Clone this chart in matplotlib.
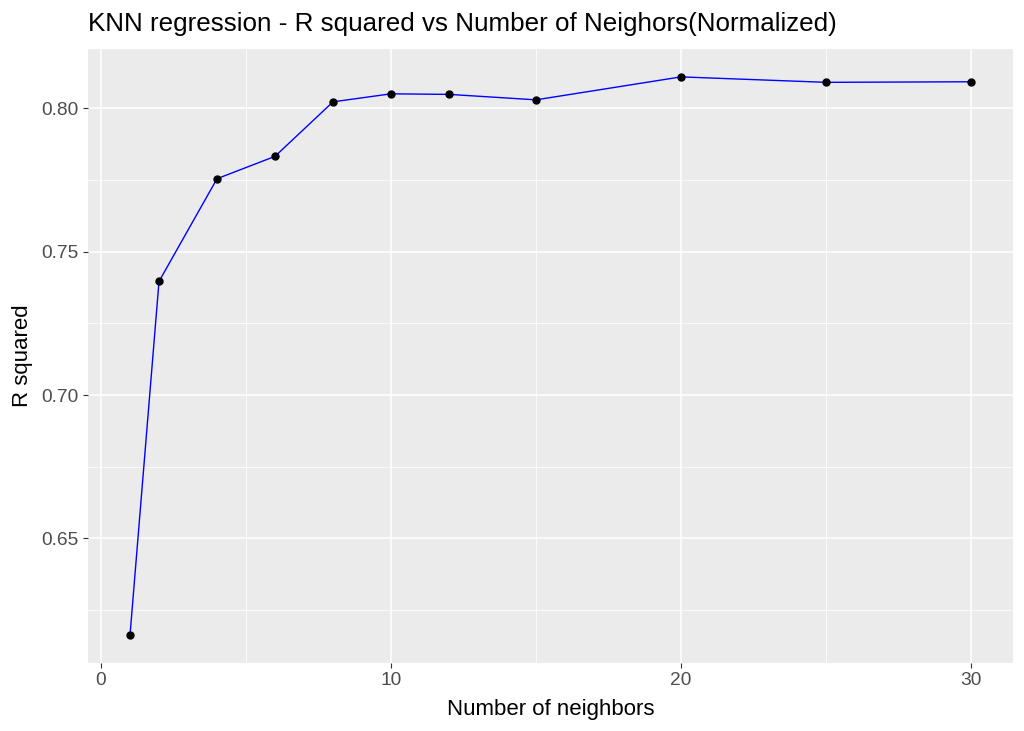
import matplotlib
matplotlib.use("Agg")
import matplotlib.pyplot as plt
from matplotlib.ticker import MultipleLocator

# k values and R squared
neighbors = [1, 2, 4, 6, 8, 10, 12, 15, 20, 25, 30]
r_squared = [0.6163, 0.7396, 0.7754, 0.7832, 0.8022, 0.8050, 0.8048, 0.8029, 0.8109, 0.8090, 0.8092]

plt.rcParams['font.family'] = ['Liberation Sans', 'DejaVu Sans']

fig = plt.figure(figsize=(10.24, 7.31), dpi=100)
ax = fig.add_axes([0.0859, 0.093, 0.9034, 0.840])

ax.set_facecolor('#EBEBEB')
ax.plot(neighbors, r_squared, color='blue', linewidth=1.0, zorder=3)
ax.plot(neighbors, r_squared, 'o', color='black', markersize=5, zorder=4)

xr = max(neighbors) - min(neighbors)
yr = max(r_squared) - min(r_squared)
ax.set_xlim(min(neighbors) - 0.05 * xr, max(neighbors) + 0.05 * xr)
ax.set_ylim(min(r_squared) - 0.05 * yr, max(r_squared) + 0.05 * yr)

ax.xaxis.set_major_locator(MultipleLocator(10))
ax.xaxis.set_minor_locator(MultipleLocator(5))
ax.yaxis.set_major_locator(MultipleLocator(0.05))
ax.yaxis.set_minor_locator(MultipleLocator(0.025))
ax.yaxis.set_major_formatter(matplotlib.ticker.FormatStrFormatter('%.2f'))

ax.grid(which='major', color='white', linewidth=1.1, zorder=0)
ax.grid(which='minor', color='white', linewidth=0.55, zorder=0)
ax.set_axisbelow(True)
for s in ax.spines.values():
    s.set_visible(False)

ax.tick_params(which='major', length=3.5, width=0.8, color='#333333',
               labelsize=13.8, labelcolor='#4D4D4D', pad=3)
ax.tick_params(which='minor', length=0)

ax.set_title("KNN regression - R squared vs Number of Neighors(Normalized)",
             fontsize=18.7, loc='left', pad=13)
ax.set_xlabel("Number of neighbors", fontsize=16, labelpad=7)
ax.set_ylabel("R squared", fontsize=16, labelpad=6)

fig.savefig("out.png", dpi=100)
